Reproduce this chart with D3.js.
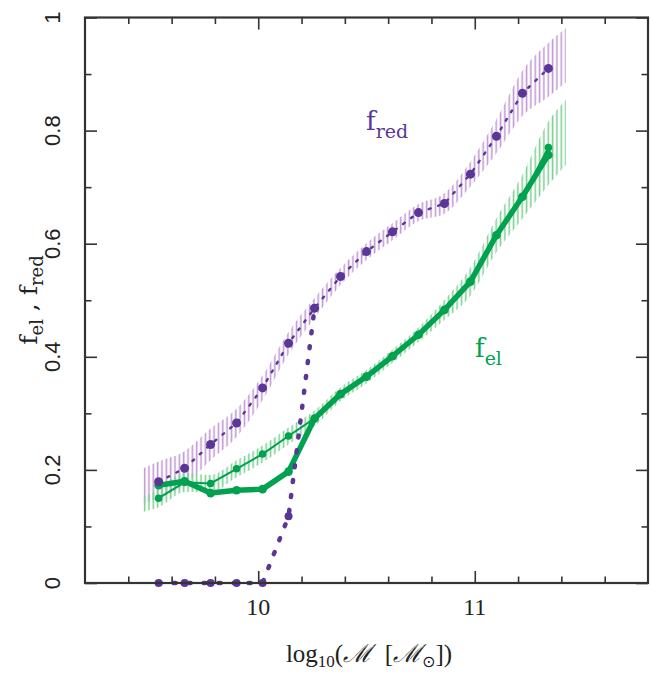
<!DOCTYPE html>
<html>
<head>
<meta charset="utf-8">
<script src="https://cdn.jsdelivr.net/npm/d3@7"></script>
<style>
  body { margin: 0; background: #fff; }
  text { font-family: "Liberation Serif", "DejaVu Serif", serif; }
</style>
</head>
<body>
<svg id="chart" width="651" height="673"></svg>
<script>
// Stellar-mass bins (log10 M / M_sun)
const massBins = [9.54, 9.66, 9.78, 9.90, 10.02, 10.14, 10.26, 10.38, 10.50, 10.62, 10.74, 10.86, 10.98, 11.10, 11.22, 11.34];

// Red fraction
const fRed = [0.179, 0.203, 0.245, 0.283, 0.345, 0.424, 0.486, 0.542, 0.586, 0.621, 0.655, 0.671, 0.723, 0.790, 0.866, 0.910];
// Red fraction, strict colour cut (low-mass bins)
const fRedCutBins = [9.54, 9.66, 9.78, 9.90, 10.02, 10.14, 10.26];
const fRedCut = [0, 0, 0, 0, 0, 0.118, 0.486];

// Elliptical fraction: two estimates
const fElA = [0.150, 0.178, 0.176, 0.202, 0.228, 0.260, 0.291, 0.334, 0.365, 0.401, 0.439, 0.483, 0.533, 0.615, 0.683, 0.770];
const fElB = [0.173, 0.180, 0.159, 0.164, 0.166, 0.197, 0.291, 0.334, 0.365, 0.401, 0.439, 0.483, 0.533, 0.615, 0.683, 0.757];

// Uncertainty envelopes
const bandX = [9.47, 9.54, 9.66, 9.78, 9.90, 10.02, 10.14, 10.26, 10.38, 10.50, 10.62, 10.74, 10.86, 10.98, 11.10, 11.22, 11.34, 11.42];
const redLo = [0.141, 0.150, 0.173, 0.217, 0.258, 0.323, 0.404, 0.468, 0.527, 0.571, 0.606, 0.640, 0.653, 0.701, 0.760, 0.826, 0.860, 0.885];
const redHi = [0.203, 0.215, 0.233, 0.273, 0.308, 0.367, 0.444, 0.504, 0.557, 0.601, 0.636, 0.670, 0.689, 0.745, 0.820, 0.906, 0.955, 0.981];
const elLo  = [0.126, 0.134, 0.161, 0.161, 0.187, 0.213, 0.245, 0.277, 0.322, 0.353, 0.389, 0.426, 0.465, 0.508, 0.585, 0.644, 0.704, 0.739];
const elHi  = [0.152, 0.166, 0.195, 0.191, 0.217, 0.243, 0.275, 0.305, 0.346, 0.377, 0.413, 0.452, 0.501, 0.558, 0.645, 0.722, 0.816, 0.854];

// Axis ticks
const xMajor = [10, 11];
const xMinor = [9.4, 9.6, 9.8, 10.2, 10.4, 10.6, 10.8, 11.2, 11.4, 11.6];
const yMajor = [0, 0.2, 0.4, 0.6, 0.8, 1];
const yMinor = [0.1, 0.3, 0.5, 0.7, 0.9];
const yTickLabels = ["0", "0.2", "0.4", "0.6", "0.8", "1"];
const xTickLabels = ["10", "11"];

const purple = "#5a3796", purpleLight = "#c29bd4";
const green = "#00a24f", greenLight = "#7fd194";
const axisColor = "#333";
const serifWide = "'DejaVu Serif', serif";

const svg = d3.select("#chart");
const L = 85, R = 648, T = 17.5, B = 583;
const x = d3.scaleLinear().domain([9.2, 11.8]).range([L, R]);
const y = d3.scaleLinear().domain([0, 1]).range([B, T]);

// hatching patterns (vertical strokes)
const defs = svg.append("defs");
function hatch(id, color) {
  const p = defs.append("pattern").attr("id", id)
    .attr("patternUnits", "userSpaceOnUse")
    .attr("width", 4.34).attr("height", 20);
  p.append("rect").attr("x", 0.6).attr("y", 0).attr("width", 1.6).attr("height", 20).attr("fill", color);
}
hatch("hatchRed", purpleLight);
hatch("hatchEl", greenLight);

const band = (lo, hi) => bandX.map((v, i) => ({ x: v, lo: lo[i], hi: hi[i] }));
const area = d3.area().x(d => x(d.x)).y0(d => y(d.lo)).y1(d => y(d.hi)).curve(d3.curveMonotoneX);

svg.append("path").attr("d", area(band(redLo, redHi))).attr("fill", "url(#hatchRed)");
svg.append("path").attr("d", area(band(elLo, elHi))).attr("fill", "url(#hatchEl)");

// zero-width envelope of the strict cut
svg.append("line")
  .attr("x1", x(bandX[0])).attr("x2", x(fRedCutBins[4]))
  .attr("y1", y(0)).attr("y2", y(0))
  .attr("stroke", purpleLight).attr("stroke-width", 1.6).attr("stroke-dasharray", "6,3");

const line = d3.line().x(d => x(d[0])).y(d => y(d[1]));
const pts = (xs, vs) => xs.map((v, i) => [v, vs[i]]);

// elliptical fractions
svg.append("path").attr("d", line(pts(massBins, fElA)))
  .attr("fill", "none").attr("stroke", green).attr("stroke-width", 2);
svg.append("path").attr("d", line(pts(massBins, fElB)))
  .attr("fill", "none").attr("stroke", green).attr("stroke-width", 5.5).attr("stroke-linejoin", "round");
svg.append("g").selectAll("circle").data(pts(massBins, fElA)).join("circle")
  .attr("cx", d => x(d[0])).attr("cy", d => y(d[1])).attr("r", 3.8).attr("fill", green);
svg.append("g").selectAll("circle").data(pts(massBins, fElB)).join("circle")
  .attr("cx", d => x(d[0])).attr("cy", d => y(d[1])).attr("r", 4.3).attr("fill", green);

// red fraction
svg.append("path").attr("d", line(pts(massBins, fRed)))
  .attr("fill", "none").attr("stroke", purple).attr("stroke-width", 2.4)
  .attr("stroke-linecap", "round").attr("stroke-dasharray", "2,8");
svg.append("g").selectAll("circle").data(pts(massBins, fRed)).join("circle")
  .attr("cx", d => x(d[0])).attr("cy", d => y(d[1])).attr("r", 4.5).attr("fill", purple);

// strict-cut red fraction
svg.append("path").attr("d", line(pts(fRedCutBins, fRedCut)))
  .attr("fill", "none").attr("stroke", purple).attr("stroke-width", 4.5)
  .attr("stroke-linecap", "round").attr("stroke-dasharray", "2,13");
svg.append("g").selectAll("circle").data(pts(fRedCutBins, fRedCut)).join("circle")
  .attr("cx", d => x(d[0])).attr("cy", d => y(d[1])).attr("r", 4).attr("fill", purple);

// frame and ticks on all four sides
function styleAxis(g) {
  g.select(".domain").remove();
  g.selectAll("line").attr("stroke", axisColor).attr("stroke-width", 1.6);
  g.selectAll("text").remove();
}
svg.append("g").attr("transform", `translate(0,${B})`).call(d3.axisBottom(x).tickValues(xMinor).tickSize(-6.5)).call(styleAxis);
svg.append("g").attr("transform", `translate(0,${B})`).call(d3.axisBottom(x).tickValues(xMajor).tickSize(-12)).call(styleAxis);
svg.append("g").attr("transform", `translate(0,${T})`).call(d3.axisTop(x).tickValues(xMinor).tickSize(-6.5)).call(styleAxis);
svg.append("g").attr("transform", `translate(0,${T})`).call(d3.axisTop(x).tickValues(xMajor).tickSize(-12)).call(styleAxis);
svg.append("g").attr("transform", `translate(${L},0)`).call(d3.axisLeft(y).tickValues(yMinor).tickSize(-6.5)).call(styleAxis);
svg.append("g").attr("transform", `translate(${L},0)`).call(d3.axisLeft(y).tickValues(yMajor).tickSize(-12)).call(styleAxis);
svg.append("g").attr("transform", `translate(${R},0)`).call(d3.axisRight(y).tickValues(yMinor).tickSize(-6.5)).call(styleAxis);
svg.append("g").attr("transform", `translate(${R},0)`).call(d3.axisRight(y).tickValues(yMajor).tickSize(-12)).call(styleAxis);
svg.append("rect").attr("x", L).attr("y", T).attr("width", R - L).attr("height", B - T)
  .attr("fill", "none").attr("stroke", axisColor).attr("stroke-width", 2.2);

// tick labels
svg.append("g").selectAll("text").data(xMajor).join("text")
  .attr("x", d => x(d)).attr("y", 615).attr("text-anchor", "middle")
  .attr("font-size", 24).attr("fill", "#222").text((d, i) => xTickLabels[i]);
svg.append("g").selectAll("text").data(yMajor).join("text")
  .attr("transform", d => `translate(60,${y(d)}) rotate(-90)`)
  .attr("text-anchor", "middle").attr("font-size", 22).attr("fill", "#222")
  .style("font-family", "'Liberation Sans', sans-serif")
  .text((d, i) => yTickLabels[i]);

// axis titles
const xt = svg.append("text").attr("x", 369).attr("y", 662).attr("text-anchor", "middle")
  .attr("font-size", 25).attr("fill", "#222");
xt.append("tspan").text("log");
xt.append("tspan").attr("font-size", 17).attr("dy", 5).text("10");
xt.append("tspan").attr("dy", -5).text("(");
xt.append("tspan").style("font-family", serifWide).style("font-style", "italic").text("\u2133");
xt.append("tspan").text("\u2002[");
xt.append("tspan").style("font-family", serifWide).style("font-style", "italic").text("\u2133");
xt.append("tspan").attr("font-size", 16).attr("dy", 5).style("font-family", "'DejaVu Sans', sans-serif").text("\u2299");
xt.append("tspan").attr("dy", -5).text("])");

const yt = svg.append("text").attr("transform", "translate(37,300) rotate(-90)")
  .attr("text-anchor", "middle").attr("font-size", 25).attr("fill", "#222")
  .style("font-family", serifWide);
yt.append("tspan").text("f");
yt.append("tspan").attr("font-size", 18).attr("dy", 6).text("el");
yt.append("tspan").attr("dy", -6).text(" , f");
yt.append("tspan").attr("font-size", 18).attr("dy", 6).text("red");

// series labels
const lr = svg.append("text").attr("x", 366).attr("y", 130).attr("font-size", 26).attr("fill", purple)
  .style("font-family", serifWide);
lr.append("tspan").text("f");
lr.append("tspan").attr("font-size", 19).attr("dy", 8).text("red");
const le = svg.append("text").attr("x", 475).attr("y", 357).attr("font-size", 26).attr("fill", green)
  .style("font-family", serifWide);
le.append("tspan").text("f");
le.append("tspan").attr("font-size", 19).attr("dy", 8).text("el");
</script>
</body>
</html>
